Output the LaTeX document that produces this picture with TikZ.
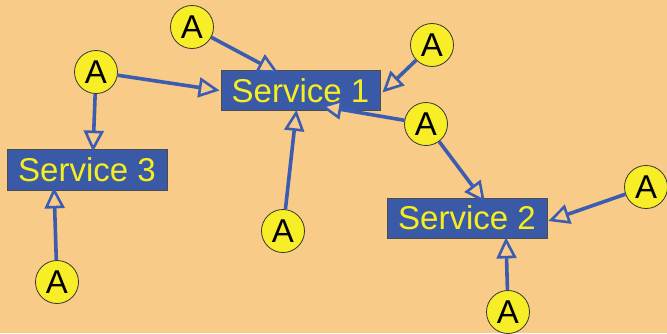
\documentclass[tikz,border=0pt]{standalone}
\usepackage{fontspec}
\setmainfont{Liberation Sans}
\usetikzlibrary{arrows.meta}
\definecolor{bg}{RGB}{248,204,136}
\definecolor{svcblue}{RGB}{58,90,168}
\definecolor{linkblue}{RGB}{60,92,178}
\definecolor{svctext}{RGB}{248,238,30}
\definecolor{agentfill}{RGB}{248,238,40}
\begin{document}
\begin{tikzpicture}[x=1pt,y=-1pt,
  service/.style={draw=black!70,line width=0.8pt,fill=svcblue,text=svctext,
    font=\fontsize{33}{33}\selectfont,minimum height=40pt,inner sep=0pt,anchor=center},
  agent/.style={circle,draw=black!80,line width=0.8pt,fill=agentfill,
    minimum size=43pt,inner sep=0pt,font=\fontsize{33}{33}\selectfont},
  link/.style={draw=linkblue,line width=3.6pt,
    -{Triangle[length=21pt,width=20pt,line width=2.6pt,fill=bg]},shorten >=0pt}
]
\fill[bg] (0,0) rectangle (667,333);
\useasboundingbox (0,0) rectangle (667,333);

% services
\node[service,minimum width=159pt] (s1) at (300.5,90.5) {Service 1};
\node[service,minimum width=160pt,minimum height=41pt] (s3) at (87,169.5) {Service 3};
\node[service,minimum width=160pt] (s2) at (467,218) {Service 2};

% agents
\node[agent] (a1) at (192,27) {A};
\node[agent] (a2) at (432,45) {A};
\node[agent] (a3) at (96,72) {A};
\node[agent] (a4) at (426,124) {A};
\node[agent] (a5) at (283,231) {A};
\node[agent] (a6) at (646,187) {A};
\node[agent] (a7) at (57,282) {A};
\node[agent] (a8) at (508,312) {A};

% links from agents to services
\draw[link] (a1) -- ([xshift=-22pt,yshift=-3pt]s1.north);
\draw[link] (a2) -- ([xshift=2pt,yshift=-2pt]s1.east);
\draw[link] (a3) -- ([xshift=-1pt]s1.west);
\draw[link] (a3) -- ([xshift=6pt,yshift=-3pt]s3.north);
\draw[link] (a4) -- ([xshift=20pt,yshift=5pt]s1.south);
\draw[link] (a4) -- ([xshift=18pt,yshift=-5pt]s2.north);
\draw[link] (a5) -- ([xshift=-4pt,yshift=1pt]s1.south);
\draw[link] (a6) -- ([xshift=1pt,yshift=-3pt]s2.east);
\draw[link] (a7) -- ([xshift=-33pt,yshift=3pt]s3.south);
\draw[link] (a8) -- ([xshift=39pt,yshift=1pt]s2.south);
\end{tikzpicture}
\end{document}
